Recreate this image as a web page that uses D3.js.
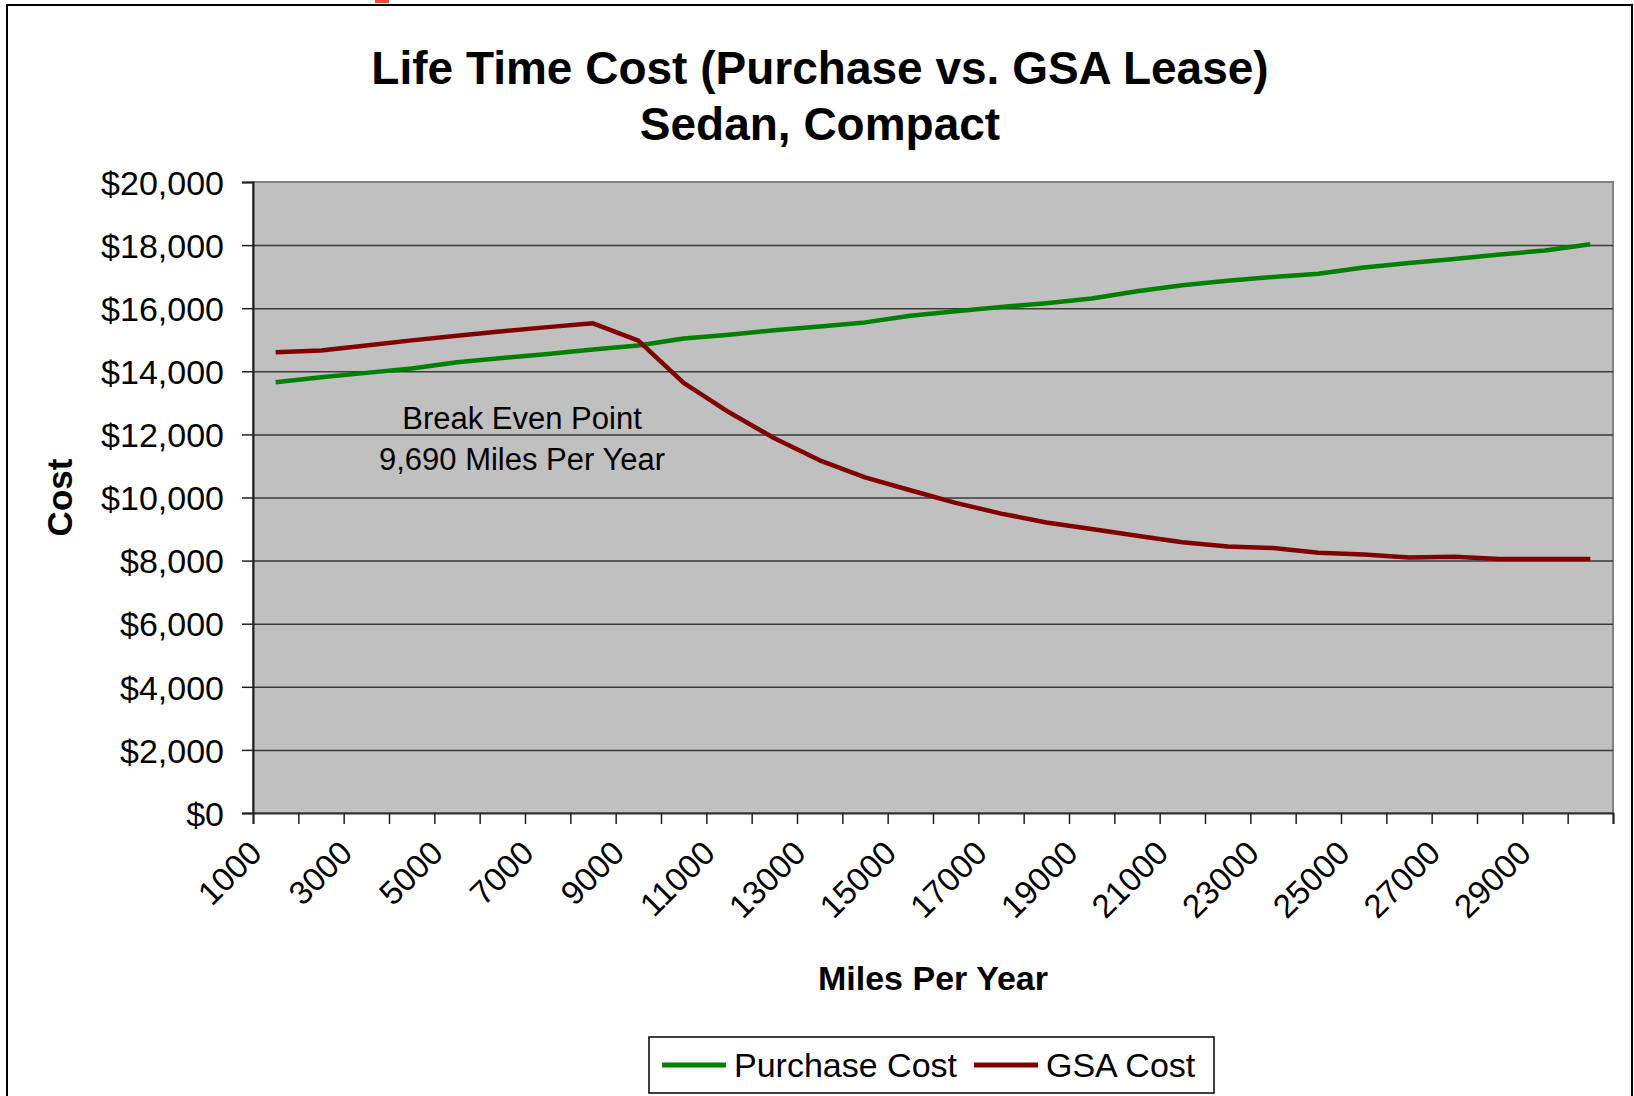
<!DOCTYPE html>
<html>
<head>
<meta charset="utf-8">
<script src="https://cdn.jsdelivr.net/npm/d3@7"></script>
<style>
  body { margin: 0; background: #fff; }
  text { font-family: "Liberation Sans", Arial, sans-serif; fill: #000; }
</style>
</head>
<body>
<div id="chart"></div>
<script>
const WIDTH = 1634;
const HEIGHT = 1096;
const PLOT = { left: 253, top: 182, right: 1613, bottom: 813 };

// miles per year (categories)
const miles = [1000, 2000, 3000, 4000, 5000, 6000, 7000, 8000, 9000, 10000,
    11000, 12000, 13000, 14000, 15000, 16000, 17000, 18000, 19000, 20000,
    21000, 22000, 23000, 24000, 25000, 26000, 27000, 28000, 29000, 30000];

const purchaseCost = [13650, 13810, 13950, 14090, 14290, 14420, 14550, 14690, 14820, 15040,
    15160, 15300, 15420, 15550, 15760, 15900, 16040, 16160, 16310, 16540,
    16730, 16870, 16990, 17090, 17290, 17430, 17560, 17700, 17830, 18030];

const gsaCost = [14600, 14660, 14820, 14980, 15130, 15270, 15400, 15520, 14970, 13630,
    12700, 11880, 11180, 10640, 10230, 9830, 9490, 9210, 9000, 8790,
    8580, 8450, 8400, 8250, 8190, 8100, 8120, 8050, 8050, 8050];

const xTickLabels = [1000, 3000, 5000, 7000, 9000, 11000, 13000, 15000,
    17000, 19000, 21000, 23000, 25000, 27000, 29000];

const yTicks = [0, 2000, 4000, 6000, 8000, 10000, 12000, 14000, 16000, 18000, 20000];

const series = [
    { name: "Purchase Cost", values: purchaseCost, color: "#008000" },
    { name: "GSA Cost", values: gsaCost, color: "#800000" }
];

const plotW = PLOT.right - PLOT.left;
const plotH = PLOT.bottom - PLOT.top;

const svg = d3.select("#chart")
    .append("svg")
    .attr("width", WIDTH)
    .attr("height", HEIGHT);

// outer chart frame
svg.append("rect")
    .attr("x", 7).attr("y", 5)
    .attr("width", 1625).attr("height", 1110)
    .attr("fill", "#fff")
    .attr("stroke", "#000")
    .attr("stroke-width", 2);

// little clipped mark at the very top
svg.append("rect")
    .attr("x", 375).attr("y", 0)
    .attr("width", 14).attr("height", 3)
    .attr("fill", "#e8532c");

// title
svg.append("text")
    .attr("x", 820).attr("y", 84)
    .attr("text-anchor", "middle")
    .style("font-size", "46px").style("font-weight", "bold")
    .text("Life Time Cost (Purchase vs. GSA Lease)");

svg.append("text")
    .attr("x", 820).attr("y", 140)
    .attr("text-anchor", "middle")
    .style("font-size", "46px").style("font-weight", "bold")
    .text("Sedan, Compact");

const x = d3.scaleBand()
    .domain(miles)
    .range([0, plotW])
    .padding(0);

const xEdge = d3.scaleLinear()
    .domain([0, miles.length])
    .range([0, plotW]);

const y = d3.scaleLinear()
    .domain([0, 20000])
    .range([plotH, 0]);

const g = svg.append("g")
    .attr("transform", `translate(${PLOT.left}, ${PLOT.top})`);

// plot background
g.append("rect")
    .attr("width", plotW).attr("height", plotH)
    .attr("fill", "#c0c0c0")
    .attr("stroke", "#808080")
    .attr("stroke-width", 2);

// gridlines
const grid = g.append("g")
    .call(d3.axisLeft(y).tickValues(yTicks.filter(d => d > 0 && d < 20000)).tickSize(-plotW).tickFormat(""));
grid.select(".domain").remove();
grid.selectAll("line").attr("stroke", "#3a3a3a").attr("stroke-width", 1.5);

// y axis
const yAxis = g.append("g")
    .call(d3.axisLeft(y).tickValues(yTicks).tickSize(11).tickPadding(18).tickFormat(d3.format("$,")));
yAxis.select(".domain").attr("stroke", "#202020").attr("stroke-width", 2);
yAxis.selectAll("line").attr("stroke", "#202020").attr("stroke-width", 1.5);
yAxis.selectAll("text")
    .style("font-size", "34px")
    .style("font-family", "'Liberation Sans', Arial, sans-serif")
    .attr("fill", "#000")
    .attr("dy", "0.36em");

// x axis: ticks between categories
const xAxis = g.append("g")
    .attr("transform", `translate(0, ${plotH})`)
    .call(d3.axisBottom(xEdge).tickValues(miles.map((d, i) => i).concat([miles.length])).tickSize(11).tickFormat(""));
xAxis.select(".domain").attr("stroke", "#303030").attr("stroke-width", 2);
xAxis.selectAll("line").attr("stroke", "#202020").attr("stroke-width", 1.5);

// rotated category labels
g.selectAll(".xlabel")
    .data(xTickLabels)
    .join("text")
    .attr("class", "xlabel")
    .attr("text-anchor", "end")
    .attr("transform", d => `translate(${x(d) + x.bandwidth() / 2 - 12}, ${plotH + 42}) rotate(-45)`)
    .style("font-size", "33px")
    .text(d => d);

// axis titles
svg.append("text")
    .attr("x", (PLOT.left + PLOT.right) / 2)
    .attr("y", 990)
    .attr("text-anchor", "middle")
    .style("font-size", "34px").style("font-weight", "bold")
    .text("Miles Per Year");

svg.append("text")
    .attr("transform", `translate(72, ${(PLOT.top + PLOT.bottom) / 2}) rotate(-90)`)
    .attr("text-anchor", "middle")
    .style("font-size", "35px").style("font-weight", "bold")
    .text("Cost");

// annotation
const note = svg.append("text")
    .attr("text-anchor", "middle")
    .style("font-size", "31px");
note.append("tspan").attr("x", 522).attr("y", 429).text("Break Even Point");
note.append("tspan").attr("x", 522).attr("y", 470).text("9,690 Miles Per Year");

// series lines
const line = d3.line()
    .x((d, i) => x(miles[i]) + x.bandwidth() / 2)
    .y(d => y(d));

g.selectAll(".series")
    .data(series)
    .join("path")
    .attr("class", "series")
    .attr("fill", "none")
    .attr("stroke", d => d.color)
    .attr("stroke-width", 4.5)
    .attr("stroke-linejoin", "round")
    .attr("d", d => line(d.values));

// legend
const legend = svg.append("g");
legend.append("rect")
    .attr("x", 649).attr("y", 1037)
    .attr("width", 565).attr("height", 56)
    .attr("fill", "#fff")
    .attr("stroke", "#000")
    .attr("stroke-width", 1.5);

const legendItems = [
    { s: series[0], x0: 662, tx: 734 },
    { s: series[1], x0: 974, tx: 1046 }
];
legendItems.forEach(item => {
    legend.append("line")
        .attr("x1", item.x0).attr("x2", item.x0 + 64)
        .attr("y1", 1065).attr("y2", 1065)
        .attr("stroke", item.s.color)
        .attr("stroke-width", 5);
    legend.append("text")
        .attr("x", item.tx).attr("y", 1077)
        .style("font-size", "34px")
        .text(item.s.name);
});
</script>
</body>
</html>
